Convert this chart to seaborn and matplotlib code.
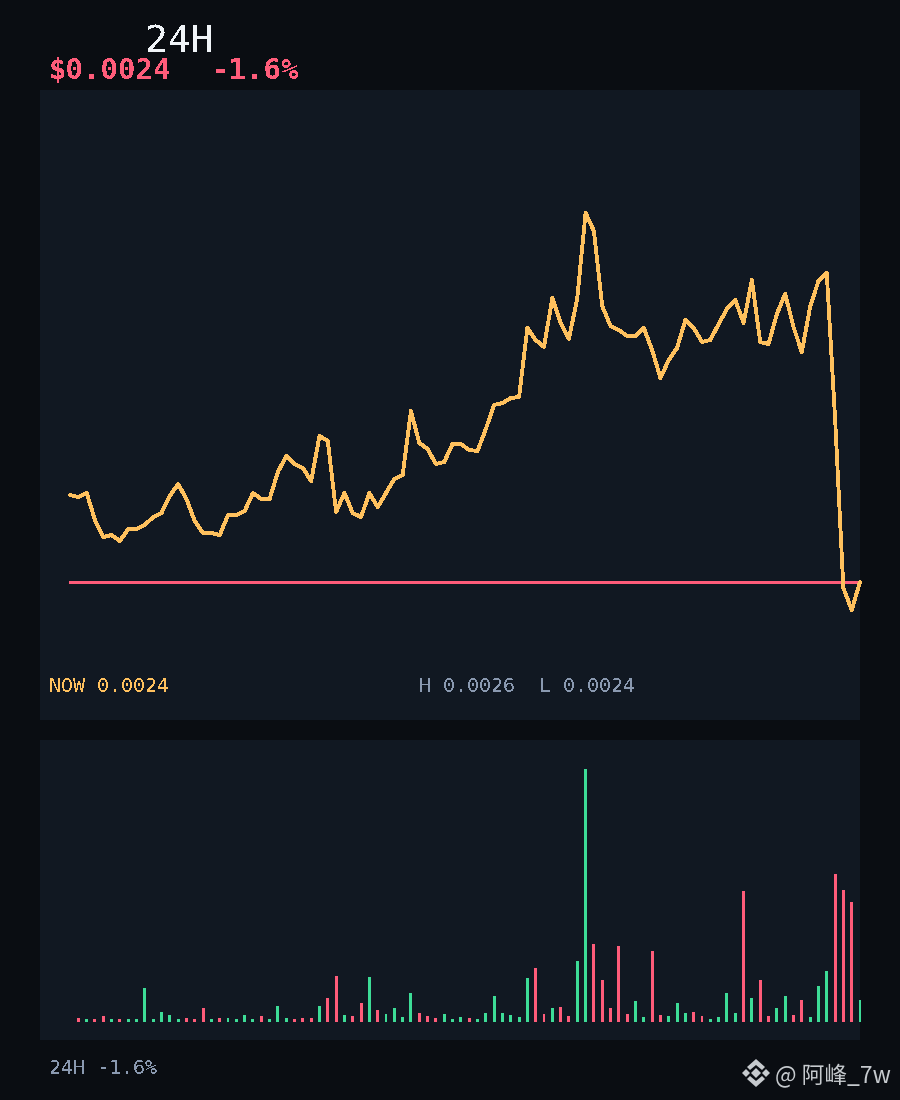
import matplotlib
matplotlib.use("Agg")
import matplotlib.pyplot as plt
from matplotlib.patches import Polygon
import pandas as pd
import seaborn as sns

# price and volume (units = panel pixels above the panel floor / bar base)
price = [225, 223, 227, 200, 183, 185, 179, 191, 191, 195, 203, 207, 224, 236, 221, 199,
         187, 187, 185, 205, 205, 209, 227, 221, 221, 248, 264, 256, 252, 239, 284, 279,
         208, 227, 207, 203, 227, 213, 227, 241, 245, 309, 277, 271, 256, 258, 276, 276,
         270, 269, 291, 315, 317, 322, 323, 392, 380, 373, 422, 397, 381, 422, 507, 489,
         414, 394, 390, 384, 384, 392, 370, 342, 360, 372, 400, 392, 378, 380, 396, 411,
         420, 397, 440, 378, 376, 406, 426, 393, 368, 413, 439, 447, 302, 132, 110, 138]

volume = [4, 3, 3, 6, 3, 3, 3, 3, 34, 3, 10, 7, 3, 4, 3, 14, 3, 4, 4, 3, 7, 3, 6, 3, 16,
          4, 3, 4, 4, 16, 24, 46, 7, 6, 19, 45, 12, 8, 14, 5, 29, 9, 6, 4, 8, 3, 5, 4, 3,
          9, 26, 9, 7, 5, 44, 54, 8, 14, 15, 6, 61, 253, 78, 42, 14, 76, 8, 21, 5, 71, 7,
          6, 19, 9, 10, 6, 3, 5, 29, 9, 131, 24, 42, 6, 14, 26, 7, 22, 5, 36, 51, 148, 132,
          120, 22]

# r = down bar, g = up bar
direction = list("rgrrgrggggggg" "rrrgrggggrggg" "rrrg"
                 "rrgrrgrggggrrrgggrgggggggrrgrrgg"
                 "rrrrrggrrgggrrggggrgrrggrrgggrrrg")

last_price = price[-1]
title = "24H"
price_label = "$0.0024"
change_label = "-1.6%"
now_label = "NOW 0.0024"
high_label = "H 0.0026"
low_label = "L 0.0024"
footer_label = "24H -1.6%"
watermark = "@ 阿峰_7w"

BG = "#0a0d12"
PANEL = "#111822"
AMBER = "#ffc15e"
RED = "#ff5c7a"
GREEN = "#3ddc97"
GRAY = "#8a99b0"
WHITE = "#f0f4f8"

W, H = 900, 1100

sns.set_theme(style="dark")
plt.rcParams["font.family"] = ["DejaVu Sans Mono", "Noto Sans CJK SC"]
plt.rcParams["text.antialiased"] = False

fig = plt.figure(figsize=(W / 100, H / 100), dpi=100, facecolor=BG)


def panel(left, top, right, bottom):
    ax = fig.add_axes([left / W, 1 - bottom / H, (right - left) / W, (bottom - top) / H])
    ax.set_facecolor(PANEL)
    return ax


def clean(ax):
    ax.set(xlabel="", ylabel="", xticks=[], yticks=[])
    sns.despine(ax=ax, left=True, bottom=True)
    # point 0 sits 30px in from the panel edge, last point on the right edge
    ax.set_xlim(-30 / 8.316, len(price) - 1)


def label(x, y, s, color, px, **kw):
    fig.text(x / W, 1 - y / H, s, color=color, fontsize=px * 0.72, va="baseline", **kw)


# price panel
ax_price = panel(40, 90, 860, 720)
idx = list(range(len(price)))
sns.lineplot(x=idx, y=price, color=AMBER, linewidth=2.0, antialiased=False,
             clip_on=False, zorder=3, ax=ax_price)
sns.lineplot(x=[idx[0], idx[-1]], y=[last_price, last_price], color=RED, linewidth=2.0,
             antialiased=False, zorder=2, ax=ax_price)
clean(ax_price)
ax_price.set_ylim(0, 630)

# volume panel
ax_vol = panel(40, 740, 860, 1040)
df = pd.DataFrame({"i": idx[1:], "volume": volume, "dir": direction})
sns.barplot(data=df, x="i", y="volume", hue="dir", palette={"r": RED, "g": GREEN},
            native_scale=True, dodge=False, width=0.36, saturation=1, legend=False,
            edgecolor="none", linewidth=0, ax=ax_vol)
# last bar hangs just over the panel edge
for bar in ax_vol.patches:
    bar.set_clip_on(False)
clean(ax_vol)
ax_vol.set_ylim(-18, 282)

# text
label(145, 52, title, WHITE, 38)
label(49, 79, price_label, RED, 29, weight="bold")
label(212, 79, change_label, RED, 29, weight="bold")
label(49, 692, now_label, AMBER, 20)
label(419, 692, high_label, GRAY, 20)
label(539, 692, low_label, GRAY, 20)
label(49, 1074, footer_label, GRAY, 20)
fig.text(775 / W, 1 - 1083 / H, watermark, color="#c6cace", fontsize=16.4,
         family=["Noto Sans CJK SC", "DejaVu Sans"], va="baseline", antialiased=True)

# logo next to the watermark, five small shapes around (756, 1073)
logo = [
    [(756, 1068), (761, 1073), (756, 1078), (751, 1073)],
    [(746, 1069), (750, 1073), (746, 1077), (742, 1073)],
    [(766, 1069), (770, 1073), (766, 1077), (762, 1073)],
    [(756, 1059), (765, 1067), (762, 1070), (756, 1065), (750, 1070), (747, 1067)],
    [(756, 1087), (765, 1079), (762, 1076), (756, 1081), (750, 1076), (747, 1079)],
]
for shape in logo:
    pts = [(x / W, 1 - y / H) for x, y in shape]
    fig.add_artist(Polygon(pts, closed=True, transform=fig.transFigure, color="#c6cace", lw=0))

fig.savefig("out.png", dpi=100, facecolor=BG)
